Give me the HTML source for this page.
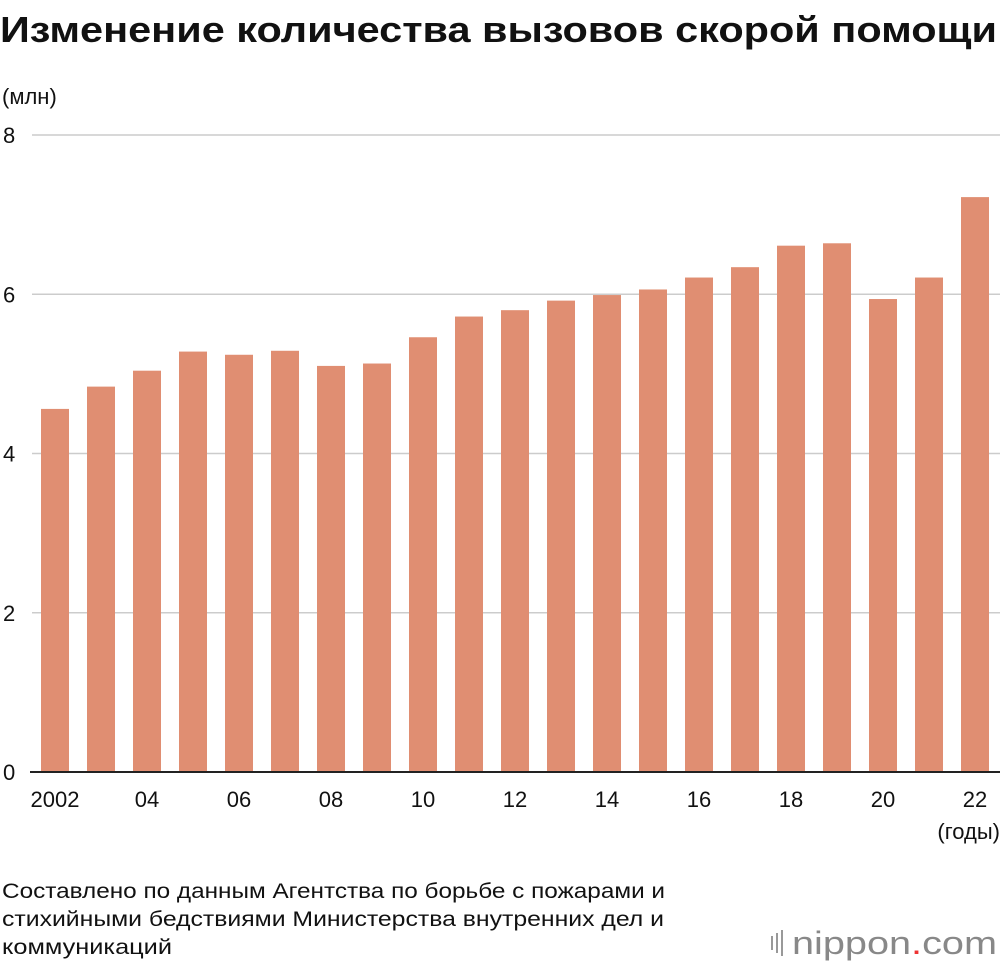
<!DOCTYPE html>
<html><head><meta charset="utf-8"><style>
body{margin:0;background:#fff;width:1000px;height:966px;overflow:hidden;font-family:"Liberation Sans",sans-serif;}
svg text{font-family:"Liberation Sans",sans-serif;fill:#111;}
</style></head><body>
<svg id="chart" width="1000" height="966">
<text x="0" y="42" font-size="36" font-weight="bold" textLength="997" lengthAdjust="spacingAndGlyphs">Изменение количества вызовов скорой помощи</text>
<text x="2" y="104" font-size="22">(млн)</text>
<g id="grid"></g><g id="bars"></g><g id="xlabels"></g>
<text x="1000" y="839" font-size="22" text-anchor="end">(годы)</text>
<text x="2" y="898" font-size="21" textLength="663" lengthAdjust="spacingAndGlyphs">Составлено по данным Агентства по борьбе с пожарами и</text>
<text x="2" y="926" font-size="21" textLength="662" lengthAdjust="spacingAndGlyphs">стихийными бедствиями Министерства внутренних дел и</text>
<text x="2" y="954" font-size="21" textLength="170" lengthAdjust="spacingAndGlyphs">коммуникаций</text>
<g>
<rect x="771" y="936" width="2" height="14" fill="#999"/><rect x="776" y="933" width="2" height="20" fill="#999"/><rect x="781" y="930" width="2" height="26" fill="#999"/>
<text x="792" y="954" font-size="32" textLength="205" lengthAdjust="spacingAndGlyphs" style="fill:#888">nippon<tspan style="fill:#e33">.</tspan>com</text>
</g>
</svg>
<script>
const years=["2002","03","04","05","06","07","08","09","10","11","12","13","14","15","16","17","18","19","20","21","22"];
const values=[4.56,4.84,5.04,5.28,5.24,5.29,5.10,5.13,5.46,5.72,5.80,5.92,5.99,6.06,6.21,6.34,6.61,6.64,5.94,6.21,7.22];
const yTicks=[0,2,4,6,8];
const NS="http://www.w3.org/2000/svg";
const y=v=>772-v*(772-135)/8;
const x=i=>41+i*46;
const grid=document.getElementById('grid'),bars=document.getElementById('bars'),xl=document.getElementById('xlabels');
yTicks.forEach(t=>{
 const l=document.createElementNS(NS,'line');
 l.setAttribute('x1',t===0?30:32);l.setAttribute('x2',1000);l.setAttribute('y1',y(t));l.setAttribute('y2',y(t));
 l.setAttribute('stroke',t===0?'#222':'#ccc');l.setAttribute('stroke-width',t===0?2:1.5);
 
 
 grid.appendChild(l);
 const tx=document.createElementNS(NS,'text');
 tx.setAttribute('x',3);tx.setAttribute('y',y(t)+8);tx.setAttribute('font-size',22);tx.textContent=t;
 
 
 grid.appendChild(tx);
});
values.forEach((v,i)=>{
 const r=document.createElementNS(NS,'rect');
 r.setAttribute('x',x(i));r.setAttribute('width',28);r.setAttribute('y',y(v));r.setAttribute('height',y(0)-y(v));
 r.setAttribute('fill','#e08e72');
 
 
 bars.appendChild(r);
 if(i%2===0){
  const t=document.createElementNS(NS,'text');
  t.setAttribute('x',x(i)+14);t.setAttribute('y',807);t.setAttribute('font-size',22);t.setAttribute('text-anchor','middle');
  t.textContent=years[i];
  
  
  xl.appendChild(t);
 }
});
grid.parentNode.appendChild(grid.firstChild);
</script>
</body></html>
